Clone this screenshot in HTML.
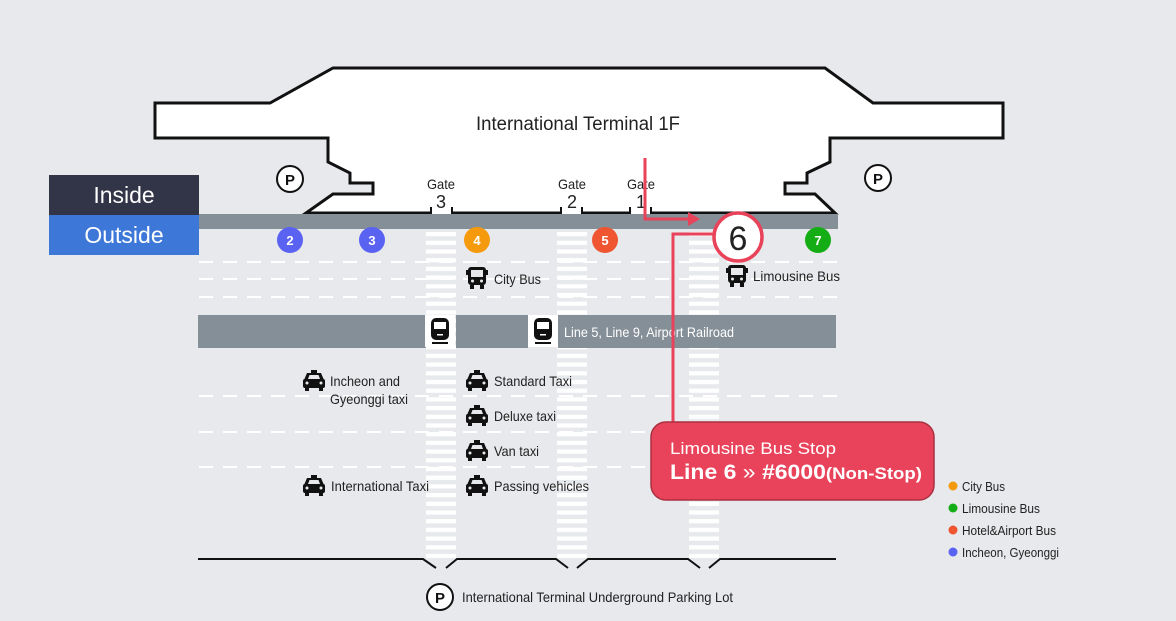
<!DOCTYPE html>
<html><head><meta charset="utf-8"><style>
html,body{margin:0;padding:0;background:#e7e9ec;}
svg{display:block;font-family:"Liberation Sans",sans-serif;}
</style></head><body>
<svg width="1176" height="621" viewBox="0 0 1176 621" xmlns="http://www.w3.org/2000/svg">
<defs>
<pattern id="cw" x="0" y="232" width="30" height="8.7" patternUnits="userSpaceOnUse">
<rect x="0" y="0" width="30" height="4.2" fill="#ffffff"/>
</pattern>
<g id="bus">
<rect x="-9" y="-11" width="18" height="18" rx="3" fill="#111"/>
<rect x="-11" y="-8" width="2" height="5" fill="#111"/><rect x="9" y="-8" width="2" height="5" fill="#111"/>
<rect x="-6" y="-8" width="12" height="7" fill="#e7e9ec"/>
<rect x="-7" y="7" width="4" height="4" fill="#111"/><rect x="3" y="7" width="4" height="4" fill="#111"/>
<circle cx="-4.5" cy="3" r="1.5" fill="#e7e9ec"/><circle cx="4.5" cy="3" r="1.5" fill="#e7e9ec"/>
</g>
<g id="taxi">
<rect x="-3" y="-11" width="6" height="3" fill="#111"/>
<path d="M-7,-8 H7 L10,-1 H-10 Z" fill="#111"/>
<path d="M-4.5,-6 H4.5 L6,-2 H-6 Z" fill="#e7e9ec"/>
<rect x="-11" y="-2" width="22" height="9" rx="2" fill="#111"/>
<rect x="-9" y="6" width="4" height="4" fill="#111"/><rect x="5" y="6" width="4" height="4" fill="#111"/>
<circle cx="-7" cy="2" r="1.5" fill="#e7e9ec"/><circle cx="7" cy="2" r="1.5" fill="#e7e9ec"/>
</g>
<g id="train">
<rect x="-15" y="-15" width="30" height="32" fill="#fff"/>
<rect x="-9" y="-12" width="18" height="22" rx="5" fill="#111"/>
<rect x="-6" y="-8" width="12" height="7" fill="#fff"/>
<rect x="-3" y="4" width="6" height="1.5" fill="#fff"/>
<rect x="-8" y="12" width="16" height="2" fill="#111"/>
</g>
</defs>

<!-- terminal -->
<path d="M155,103 H270 L333,68 H825 L873,103 H1003 V138 H830 V162 L807,173 V183 H785 V194 H815 L835,213 H306 L333,194 H373 V183 H350 V173 L328,162 V138 H155 Z" fill="#fff" stroke="#111" stroke-width="3" stroke-linejoin="miter"/>
<text x="578" y="130" font-size="19" text-anchor="middle" fill="#222" textLength="204" lengthAdjust="spacingAndGlyphs">International Terminal 1F</text>

<!-- gates -->
<rect x="431" y="205" width="21" height="10" fill="#fff"/>
<rect x="561" y="205" width="21" height="10" fill="#fff"/>
<rect x="630" y="205" width="21" height="10" fill="#fff"/>
<g stroke="#111" stroke-width="2">
<line x1="431" y1="207" x2="431" y2="218"/><line x1="452" y1="207" x2="452" y2="218"/>
<line x1="561" y1="207" x2="561" y2="218"/><line x1="582" y1="207" x2="582" y2="218"/>
<line x1="630" y1="207" x2="630" y2="218"/><line x1="651" y1="207" x2="651" y2="218"/>
</g>
<g font-size="14" fill="#222" text-anchor="middle">
<text x="441" y="189" textLength="28" lengthAdjust="spacingAndGlyphs">Gate</text><text x="441" y="208" font-size="18">3</text>
<text x="572" y="189" textLength="28" lengthAdjust="spacingAndGlyphs">Gate</text><text x="572" y="208" font-size="18">2</text>
<text x="641" y="189" textLength="28" lengthAdjust="spacingAndGlyphs">Gate</text><text x="641" y="208" font-size="18">1</text>
</g>

<!-- P markers -->
<g stroke="#111" stroke-width="2" fill="#fff">
<circle cx="290" cy="179" r="13"/><circle cx="878" cy="178" r="13"/><circle cx="440" cy="597" r="13"/>
</g>
<g font-size="15" font-weight="bold" text-anchor="middle" fill="#111">
<text x="290" y="185">P</text><text x="878" y="184">P</text><text x="440" y="603">P</text>
</g>

<!-- inside/outside -->
<rect x="49" y="175" width="150" height="40" fill="#323447"/>
<rect x="49" y="215" width="150" height="40" fill="#3d77d8"/>
<text x="124" y="203" font-size="23" fill="#fff" text-anchor="middle">Inside</text>
<text x="124" y="243" font-size="23" fill="#fff" text-anchor="middle">Outside</text>

<!-- curb band -->
<rect x="199" y="214" width="639" height="15" fill="#858f97"/>

<!-- dashed lines -->
<g stroke="#fff" stroke-width="2" stroke-dasharray="14 10">
<line x1="199" y1="262" x2="838" y2="262"/>
<line x1="199" y1="279" x2="838" y2="279"/>
<line x1="199" y1="297" x2="838" y2="297"/>
<line x1="199" y1="396" x2="838" y2="396"/>
<line x1="199" y1="432" x2="838" y2="432"/>
<line x1="199" y1="467" x2="838" y2="467"/>
</g>

<!-- crosswalks -->
<rect x="426" y="232" width="30" height="326" fill="url(#cw)"/>
<rect x="557" y="232" width="30" height="326" fill="url(#cw)"/>
<rect x="689" y="232" width="30" height="326" fill="url(#cw)"/>

<!-- railroad band -->
<rect x="198" y="315" width="228" height="33" fill="#858f97"/>
<rect x="456" y="315" width="72" height="33" fill="#858f97"/>
<rect x="558" y="315" width="278" height="33" fill="#858f97"/>
<use href="#train" x="440" y="330"/>
<use href="#train" x="543" y="330"/>
<text x="564" y="337" font-size="14" fill="#fff" textLength="170" lengthAdjust="spacingAndGlyphs">Line 5, Line 9, Airport Railroad</text>

<!-- bottom line -->
<path d="M198,559 H423 L436,568 M446,568 L457,559 H556 L568,568 M577,568 L588,559 H688 L700,568 M709,568 L720,559 H836" fill="none" stroke="#111" stroke-width="2"/>
<text x="462" y="602" font-size="14" fill="#222" textLength="271" lengthAdjust="spacingAndGlyphs">International Terminal Underground Parking Lot</text>

<!-- numbered circles -->
<circle cx="290" cy="240" r="13" fill="#5a62f2"/>
<circle cx="372" cy="240" r="13" fill="#5a62f2"/>
<circle cx="477" cy="240" r="13" fill="#f59a0c"/>
<circle cx="605" cy="240" r="13" fill="#ee5530"/>
<circle cx="818" cy="240" r="13" fill="#15ad15"/>
<g font-size="13" font-weight="bold" fill="#fff" text-anchor="middle">
<text x="290" y="245">2</text><text x="372" y="245">3</text><text x="477" y="245">4</text><text x="605" y="245">5</text><text x="818" y="245">7</text>
</g>

<!-- red connectors -->
<path d="M645,158 V219 H690" fill="none" stroke="#e8435a" stroke-width="3"/>
<path d="M688,212 L700,219 L688,226 Z" fill="#e8435a"/>
<path d="M714,234 H673 V424" fill="none" stroke="#e8435a" stroke-width="3"/>
<circle cx="738" cy="237" r="24" fill="#fff" stroke="#e8435a" stroke-width="3.5"/>
<text x="738" y="250" font-size="34" fill="#222" text-anchor="middle">6</text>

<!-- icons & labels -->
<use href="#bus" x="477" y="278"/>
<text x="494" y="284" font-size="14" fill="#222" textLength="47" lengthAdjust="spacingAndGlyphs">City Bus</text>
<use href="#bus" x="737" y="276"/>
<text x="753" y="281" font-size="14" fill="#222" textLength="87" lengthAdjust="spacingAndGlyphs">Limousine Bus</text>

<use href="#taxi" x="314" y="381"/>
<text x="330" y="386" font-size="14" fill="#222" textLength="70" lengthAdjust="spacingAndGlyphs">Incheon and</text>
<text x="330" y="404" font-size="14" fill="#222" textLength="78" lengthAdjust="spacingAndGlyphs">Gyeonggi taxi</text>
<use href="#taxi" x="314" y="486"/>
<text x="331" y="491" font-size="14" fill="#222" textLength="98" lengthAdjust="spacingAndGlyphs">International Taxi</text>

<use href="#taxi" x="477" y="381"/>
<text x="494" y="386" font-size="14" fill="#222" textLength="78" lengthAdjust="spacingAndGlyphs">Standard Taxi</text>
<use href="#taxi" x="477" y="416"/>
<text x="494" y="421" font-size="14" fill="#222" textLength="62" lengthAdjust="spacingAndGlyphs">Deluxe taxi</text>
<use href="#taxi" x="477" y="451"/>
<text x="494" y="456" font-size="14" fill="#222" textLength="45" lengthAdjust="spacingAndGlyphs">Van taxi</text>
<use href="#taxi" x="477" y="486"/>
<text x="494" y="491" font-size="14" fill="#222" textLength="95" lengthAdjust="spacingAndGlyphs">Passing vehicles</text>

<!-- callout -->
<rect x="651" y="422" width="283" height="78" rx="15" fill="#e8435a" stroke="#a9303f" stroke-width="1.5"/>
<text x="670" y="454" font-size="17" fill="#fff" textLength="166" lengthAdjust="spacingAndGlyphs">Limousine Bus Stop</text>
<text x="670" y="479" font-size="21" font-weight="bold" fill="#fff" textLength="252" lengthAdjust="spacingAndGlyphs">Line 6 <tspan font-weight="normal">»</tspan> #6000<tspan font-size="17">(Non-Stop)</tspan></text>

<!-- legend -->
<circle cx="953" cy="486" r="4.5" fill="#f59a0c"/>
<circle cx="953" cy="508" r="4.5" fill="#15ad15"/>
<circle cx="953" cy="530" r="4.5" fill="#ee5530"/>
<circle cx="953" cy="552" r="4.5" fill="#5a62f2"/>
<g font-size="13" fill="#222">
<text x="962" y="491" textLength="43" lengthAdjust="spacingAndGlyphs">City Bus</text>
<text x="962" y="513" textLength="78" lengthAdjust="spacingAndGlyphs">Limousine Bus</text>
<text x="962" y="535" textLength="94" lengthAdjust="spacingAndGlyphs">Hotel&amp;Airport Bus</text>
<text x="962" y="557" textLength="97" lengthAdjust="spacingAndGlyphs">Incheon, Gyeonggi</text>
</g>
</svg>
</body></html>
